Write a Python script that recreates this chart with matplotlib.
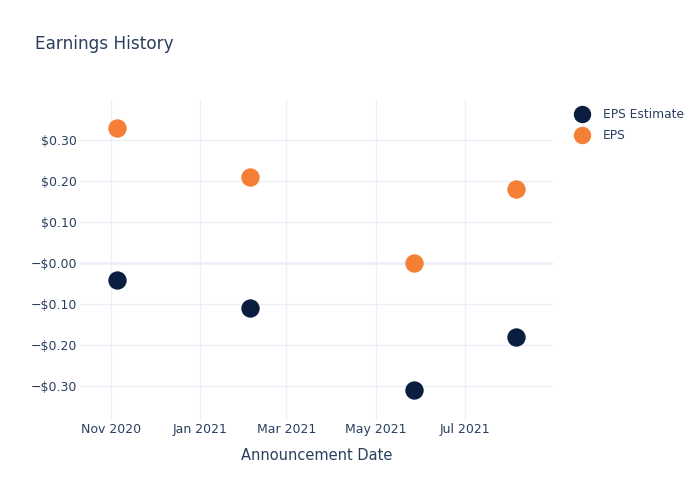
import numpy as np
import pandas as pd
import matplotlib
matplotlib.use("Agg")
import matplotlib.pyplot as plt
import matplotlib.dates as mdates
from matplotlib.ticker import FuncFormatter
from matplotlib.lines import Line2D

# data
dates = ["2020-11-05", "2021-02-04", "2021-05-27", "2021-08-05"]
eps_estimate = [-0.04, -0.11, -0.31, -0.18]
eps_actual = [0.33, 0.21, 0.00, 0.18]

TEXT = "#2a3f5f"
GRID = "#ebf0f8"
NAVY = "#0b1e3f"
ORANGE = "#f57f36"

plt.rcParams['font.family'] = ['DejaVu Sans']

x = pd.to_datetime(dates)

fig = plt.figure(figsize=(7, 5), dpi=100)
ax = fig.add_axes([80/700, 80/500, 473/700, 320/500])

ax.scatter(x, eps_estimate, s=175, color=NAVY, zorder=3, linewidths=0)
ax.scatter(x, eps_actual, s=175, color=ORANGE, zorder=3, linewidths=0)

ax.set_xlim(pd.Timestamp("2020-10-11"), pd.Timestamp("2021-08-30"))
ax.set_ylim(-0.382, 0.397)

ax.xaxis.set_major_locator(mdates.MonthLocator(bymonth=[1, 3, 5, 7, 11]))
ax.xaxis.set_major_formatter(mdates.DateFormatter("%b %Y"))
ax.set_yticks([-0.3, -0.2, -0.1, 0.0, 0.1, 0.2, 0.3])

def money(v, pos):
    sign = "\u2212" if v <= 1e-9 else ""
    return f"{sign}${abs(v):.2f}"

ax.yaxis.set_major_formatter(FuncFormatter(money))

ax.grid(True, color=GRID, linewidth=1, zorder=0)
ax.axhline(0, color=GRID, linewidth=1.8, zorder=1)
for s in ax.spines.values():
    s.set_visible(False)
ax.tick_params(length=0, labelsize=9, labelcolor=TEXT)
ax.tick_params(axis='x', pad=2)
ax.tick_params(axis='y', pad=2)

ax.set_xlabel("Announcement Date", fontsize=10.5, color=TEXT, labelpad=9)
fig.text(35/700, 1 - 44/500, "Earnings History", fontsize=12.2, color=TEXT,
         va='center', ha='left')

handles = [
    Line2D([], [], marker='o', linestyle='none', markersize=11.5, color=NAVY, label="EPS Estimate"),
    Line2D([], [], marker='o', linestyle='none', markersize=11.5, color=ORANGE, label="EPS"),
]
leg = fig.legend(handles=handles, loc='upper left', bbox_to_anchor=(570/700, 1 - 103/500),
                 frameon=False, fontsize=8.8, labelcolor=TEXT, handletextpad=1.1,
                 labelspacing=0.65, borderaxespad=0, handlelength=1.2)

fig.savefig("out.png", dpi=100)
